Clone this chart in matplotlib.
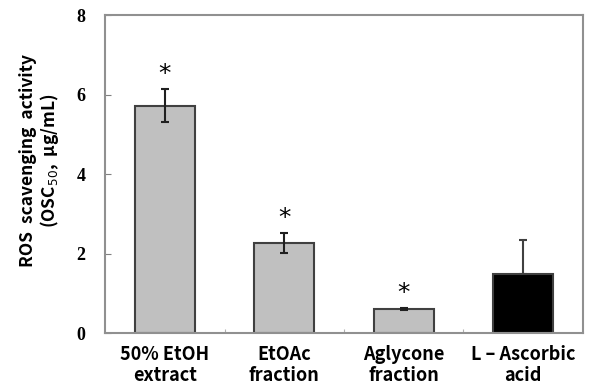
import matplotlib
matplotlib.use("Agg")
import matplotlib.pyplot as plt
import numpy as np

# Données
categories = ["50% EtOH\nextract", "EtOAc\nfraction", "Aglycone\nfraction", "L \u2013 Ascorbic\nacid"]
valeurs = [5.72, 2.27, 0.60, 1.49]
erreurs = [0.41, 0.25, 0.03, 0.85]
significatif = [True, True, True, False]
couleurs = ["#c0c0c0", "#c0c0c0", "#c0c0c0", "#000000"]
yticks = [0, 2, 4, 6, 8]

fig = plt.figure(figsize=(5.97, 3.87), dpi=100)
ax = fig.add_axes([0.1759, 0.1395, 0.8006, 0.8217])

x = np.arange(len(categories))
ax.bar(x, valeurs, width=0.5, color=couleurs, edgecolor="#404040", linewidth=1.5, zorder=2)

# Barres d'erreur (seulement vers le haut pour le témoin)
for xi, v, e, c in zip(x, valeurs, erreurs, couleurs):
    if c == "#000000":
        ax.errorbar(xi, v, yerr=[[0], [e]], fmt="none", ecolor="#404040",
                    elinewidth=1.5, capsize=3, capthick=1.5, zorder=3)
    else:
        ax.errorbar(xi, v, yerr=e, fmt="none", ecolor="#202020",
                    elinewidth=1.5, capsize=3, capthick=1.5, zorder=3)

# Astérisques de significativité
for xi, v, e, s in zip(x, valeurs, erreurs, significatif):
    if s:
        ax.text(xi, v + e + 0.08, "*", ha="center", va="bottom", fontsize=18,
                family="DejaVu Sans", color="black")

ax.set_xlim(-0.5, len(categories) - 0.5)
ax.set_ylim(0, 8)
ax.set_yticks(yticks)
ax.set_yticklabels([str(t) for t in yticks], family="Liberation Serif",
                   fontweight="bold", fontsize=13)
ax.set_xticks(x[:-1] + 0.5)
ax.set_xticklabels([])
ax.tick_params(axis="y", direction="in", length=4, color="#808080", pad=14)
ax.tick_params(axis="x", direction="in", length=3, color="#b0b0b0")

for i, lab in enumerate(categories):
    ax.text(i, -0.3, lab, ha="center", va="top", fontsize=13, fontweight="bold",
            family=["Noto Sans CJK KR", "DejaVu Sans"], linespacing=1.15,
            transform=ax.transData)

for sp in ax.spines.values():
    sp.set_color("#909090")
    sp.set_linewidth(1.5)

# Titre de l'axe y, placé un peu au-dessus du centre comme sur l'original
fig.text(0.067, 0.584, "ROS  scavenging  activity\n(OSC$_{50}$,  \u03bcg/mL)",
         rotation=90, ha="center", va="center", fontsize=12.5, fontweight="bold",
         family=["Noto Sans CJK KR", "DejaVu Sans"], linespacing=1.05,
         multialignment="center")

fig.savefig("out.png", dpi=100)
